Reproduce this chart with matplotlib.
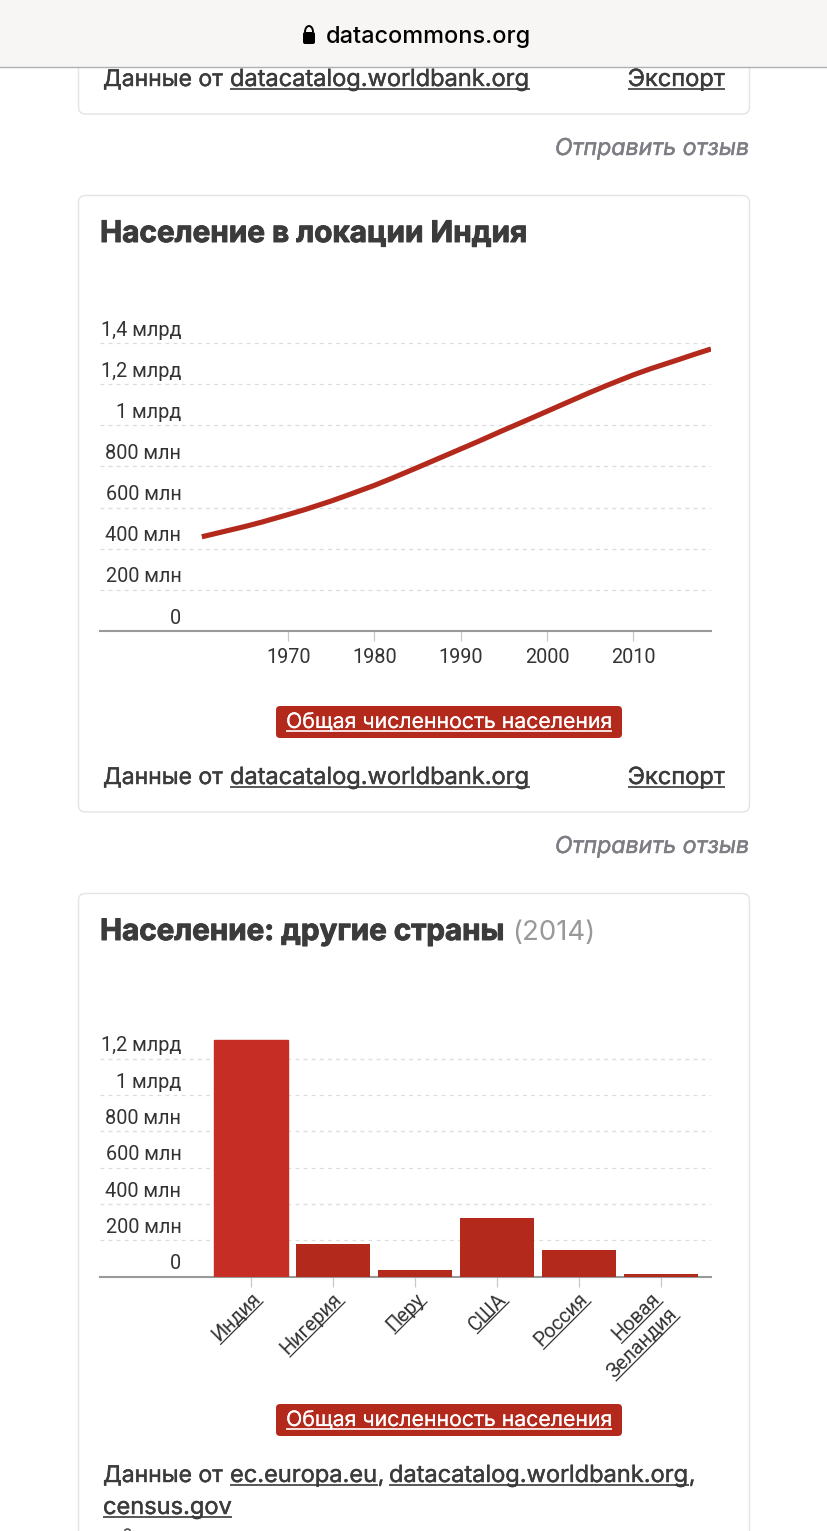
import matplotlib
matplotlib.use("Agg")
import matplotlib.pyplot as plt
import matplotlib.patheffects as pe
from matplotlib.patches import FancyBboxPatch, Rectangle, Arc
from matplotlib.transforms import ScaledTranslation

# data
line_years = [1960, 1962, 1965, 1967, 1970, 1972, 1975, 1977, 1980, 1982, 1985, 1987, 1990, 1992, 1995,
              1997, 2000, 2002, 2005, 2007, 2010, 2012, 2015, 2017, 2019]
line_values = [458, 478, 508, 530, 566, 591, 632, 662, 708, 742, 795, 831, 885, 921, 977,
               1013, 1068, 1105, 1160, 1195, 1245, 1275, 1316, 1344, 1371]
line_ticks = [0, 200, 400, 600, 800, 1000, 1200, 1400]
line_tick_labels = ["0", "200 млн", "400 млн", "600 млн", "800 млн", "1 млрд", "1,2 млрд", "1,4 млрд"]
decades = [1970, 1980, 1990, 2000, 2010]

countries = ["Индия", "Нигерия", "Перу", "США", "Россия", "Новая\nЗеландия"]
bar_values = [1303, 180, 35, 323, 147, 15]
bar_ticks = [0, 200, 400, 600, 800, 1000, 1200]
bar_tick_labels = ["0", "200 млн", "400 млн", "600 млн", "800 млн", "1 млрд", "1,2 млрд"]

W, H = 828, 1531
RED = "#b3291c"
DARK = "#3b3b3b"
UI = "Inter"
FOOT = 16.5
LINK = 17
AXIS = 14.3
plt.rcParams["font.family"] = ["Roboto", "DejaVu Sans"]

fig = plt.figure(figsize=(W / 100, H / 100), dpi=100, facecolor="white")

# overlay in pixel coords, y down
bg = fig.add_axes([0, 0, 1, 1], zorder=0)
bg.set_xlim(0, W); bg.set_ylim(H, 0); bg.axis("off")
top = fig.add_axes([0, 0, 1, 1], zorder=5)
top.set_xlim(0, W); top.set_ylim(H, 0); top.axis("off")


def ui_text(x, y, s, color=DARK, size=FOOT, stroke=0.3, **kw):
    t = top.text(x, y, s, color=color, fontsize=size, family=UI, va="baseline", **kw)
    t.set_path_effects([pe.withStroke(linewidth=stroke, foreground=color)])
    return t


def card(y0, y1):
    bg.add_patch(FancyBboxPatch((78.5, y0), 671, y1 - y0, boxstyle="round,pad=0,rounding_size=7",
                                fc="white", ec="#e3e3e8", lw=1))


def ulined(x, y, s, color=DARK, size=LINK, ha="left", stroke=0.3):
    t = ui_text(x, y, s, color=color, size=size, ha=ha, stroke=stroke)
    bb = t.get_window_extent(fig.canvas.get_renderer())
    top.plot([bb.x0, bb.x1], [y + 3, y + 3], color=color, lw=1.2, solid_capstyle="butt")
    return bb.x1


def source_row(y):
    ui_text(103, y, "Данные от")
    ulined(230, y, "datacatalog.worldbank.org")
    ulined(725, y, "Экспорт", ha="right")


def legend_button(y):
    bg.add_patch(FancyBboxPatch((276, y), 346, 32, boxstyle="round,pad=0,rounding_size=4", fc=RED, ec="none"))
    ulined(449, y + 22, "Общая численность населения", color="white", ha="center", size=15.3, stroke=0.1)


def feedback(y):
    ui_text(749, y, "Отправить отзыв", color="#7d7d84", size=16.7, fontstyle="italic", ha="right")


def axes_px(x0, x1, y0, y1):
    return fig.add_axes([x0 / W, 1 - y1 / H, (x1 - x0) / W, (y1 - y0) / H], zorder=2)


def style_axes(ax, ticks, labels):
    ax.patch.set_alpha(0)
    for s in ["top", "left", "right"]:
        ax.spines[s].set_visible(False)
    ax.spines["bottom"].set_color("#999999")
    ax.spines["bottom"].set_linewidth(1.5)
    ax.set_yticks(ticks, labels)
    ax.tick_params(axis="y", length=0, pad=-58.5, labelsize=AXIS, labelcolor="#333333")
    ax.tick_params(axis="x", length=7.2, width=0.9, color="#c8c8c8", pad=5, labelsize=AXIS, labelcolor="#333333")
    for lab in ax.get_yticklabels():
        lab.set_ha("right")
        lab.set_transform(lab.get_transform() + ScaledTranslation(0, 15 / 100, fig.dpi_scale_trans))
    ax.grid(axis="y", color="#dcdcdc", lw=0.9, dashes=(3, 3.5))
    ax.set_axisbelow(True)


# page chrome
card(-40, 114)
card(195.5, 812)
card(893.5, 1600)

bg.add_patch(Rectangle((0, 0), W, 66.5, fc="#f7f6f4", ec="none", zorder=5))
bg.plot([0, W], [67, 67], color="#b0b0b0", lw=1, zorder=6)
bg.add_patch(FancyBboxPatch((303, 32), 12, 12, boxstyle="round,pad=0,rounding_size=2", fc="black", ec="none", zorder=6))
bg.add_patch(Arc((309, 32), 8, 12, theta1=180, theta2=360, ec="black", lw=1.4, zorder=6))
top.text(428.5, 43, "datacommons.org", color="black", fontsize=16.9, fontweight="medium", ha="center", family=UI)

source_row(86)
feedback(155)

# line chart
ui_text(100, 242, "Население в локации Индия", size=21.4, stroke=0.7, fontweight="bold")
ax1 = axes_px(100, 711, 302, 631)
style_axes(ax1, line_ticks, line_tick_labels)
ax1.plot(line_years, line_values, color=RED, lw=3.7, solid_capstyle="butt", zorder=3)
ax1.set_xlim(1948.2, 2019)
ax1.set_ylim(0, (631 - 302) / 41.14 * 200)
ax1.set_xticks(decades, [str(d) for d in decades])
legend_button(706)
source_row(784)
feedback(853)

# bar chart
t = ui_text(100, 940, "Население: другие страны", size=21.3, stroke=0.7, fontweight="bold")
x_end = t.get_window_extent(fig.canvas.get_renderer()).x1
top.text(x_end + 8, 940, "(2014)", color="#999999", fontsize=19.8, family=UI)
ax2 = axes_px(100, 711, 1000, 1276.7)
style_axes(ax2, bar_ticks, bar_tick_labels)
xpos = list(range(len(countries)))
bars = ax2.bar(xpos, bar_values, width=74.4 / 82, color=RED, zorder=3)
bars[0].set_color("#c62d24")
ax2.set_xlim((100 - 251) / 82, (711 - 251) / 82)
ax2.set_ylim(0, 276.7 / 36.33 * 200)
ax2.set_xticks(xpos, [""] * len(xpos))

# rotated country names, one text per line so that each can be underlined
r = fig.canvas.get_renderer()
for i, name in enumerate(countries):
    px = ax2.transData.transform((i, 0))[0]
    parts = name.split("\n")
    shift = -10 if len(parts) > 1 else 0
    for j, part in enumerate(parts):
        ex, ey = px + 10 + shift + j * 17, 1300 + j * 15
        tmp = top.text(0, 0, part, fontsize=AXIS)
        w = tmp.get_window_extent(r).width
        tmp.remove()
        top.text(ex, ey, part, fontsize=AXIS, color="#333333", rotation=45, rotation_mode="anchor",
                 ha="right", va="baseline")
        d = w * 0.7071
        top.plot([ex + 2, ex + 2 - d], [ey + 2, ey + 2 + d], color="#333333", lw=0.9)

legend_button(1404)
ui_text(103, 1482, "Данные от")
x = ulined(230, 1482, "ec.europa.eu")
ui_text(x, 1482, ",")
x = ulined(389, 1482, "datacatalog.worldbank.org")
ui_text(x, 1482, ",")
ulined(103, 1514, "census.gov")
top.add_patch(Arc((127.5, 1536), 9, 14, theta1=240, theta2=300, ec="#555555", lw=1.2))

fig.savefig("out.png", dpi=100)
